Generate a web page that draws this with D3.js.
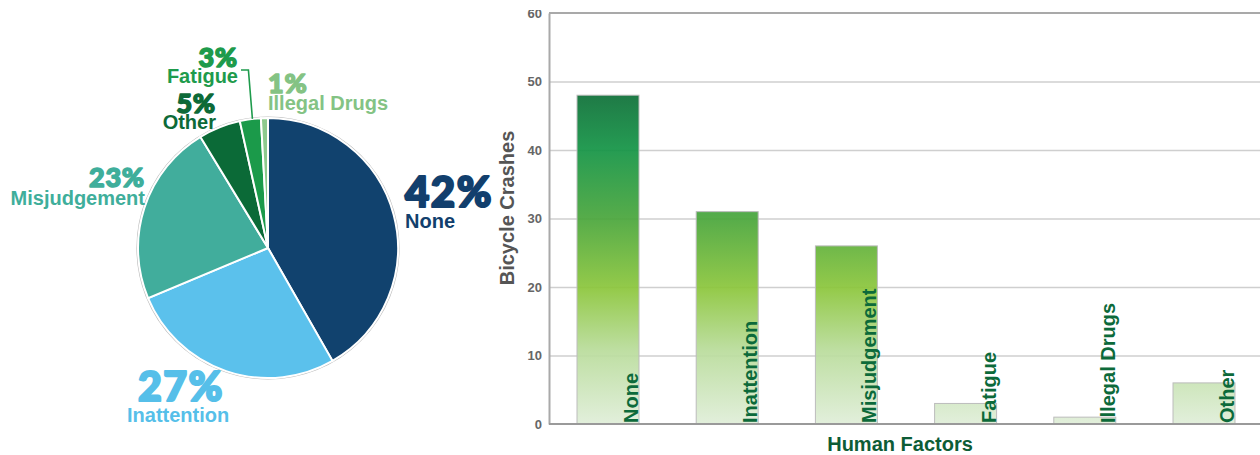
<!DOCTYPE html>
<html>
<head>
<meta charset="utf-8">
<script src="https://cdn.jsdelivr.net/npm/d3@7"></script>
<style>
  html, body { margin: 0; padding: 0; background: #fff; }
  svg { display: block; }
</style>
</head>
<body>
<svg id="chart" width="1260" height="455"></svg>
<script>
// ---- data ----
const categories = ["None", "Inattention", "Misjudgement", "Fatigue", "Illegal Drugs", "Other"];
const crashes = [48, 31, 26, 3, 1, 6];
// pie order (clockwise from 12 o'clock)
const pieOrder = ["None", "Inattention", "Misjudgement", "Other", "Fatigue", "Illegal Drugs"];
const pieColors = ["#11426e", "#5bc1ec", "#41ad9c", "#0b6a37", "#1b9a4a", "#8dca8e"];
const labelColors = ["#123f6d", "#56bfe9", "#3fae9b", "#0d6a38", "#1e9b4c", "#84c384"];
const yTicks = [0, 10, 20, 30, 40, 50, 60];

const svg = d3.select("#chart");
const LABEL_FONT = "'Liberation Sans', Arial, sans-serif";
const PCT_FONT = "Lato, 'Noto Sans', sans-serif";

// ---------------- PIE ----------------
const total = d3.sum(crashes);
const pieData = pieOrder.map((c, i) => ({
  name: c, value: crashes[categories.indexOf(c)], color: pieColors[i], lc: labelColors[i]
}));
const cx = 268, cy = 248, R = 130;
const pie = d3.pie().sort(null).value(d => d.value);
const arcs = pie(pieData);
const arc = d3.arc().innerRadius(0).outerRadius(R);
const gp = svg.append("g").attr("transform", `translate(${cx},${cy})`);
gp.append("circle").attr("r", R + 1).attr("fill", "none").attr("stroke", "#bdbdbd").attr("stroke-width", 1.2);
gp.selectAll("path.slice").data(arcs).enter().append("path")
  .attr("class", "slice")
  .attr("d", arc)
  .attr("fill", d => d.data.color)
  .attr("stroke", "#fff").attr("stroke-width", 2);

// label layout (positions are layout, not data)
const pieLabels = {
  "None":          { x: 405, y: 207, anchor: "start", size: 42, dy: 21 },
  "Inattention":   { x: 138, y: 401, anchor: "start", size: 41, dy: 21, lx: 127 },
  "Misjudgement":  { x: 145, y: 187, anchor: "end",   size: 27, dy: 18 },
  "Other":         { x: 216, y: 113, anchor: "end",   size: 27, dy: 16 },
  "Fatigue":       { x: 238, y: 67,  anchor: "end",   size: 27, dy: 16 },
  "Illegal Drugs": { x: 268, y: 93,  anchor: "start", size: 27, dy: 17 }
};
arcs.forEach(a => {
  const L = pieLabels[a.data.name];
  const pct = Math.round(a.data.value / total * 100) + "%";
  svg.append("text")
    .attr("x", L.x).attr("y", L.y)
    .attr("text-anchor", L.anchor)
    .attr("font-family", PCT_FONT).attr("font-weight", 900)
    .attr("font-size", L.size)
    .attr("letter-spacing", L.size > 35 ? 1.5 : 0.8)
    .attr("fill", a.data.lc)
    .attr("stroke", a.data.lc)
    .attr("stroke-width", L.size > 35 ? 2.2 : 1.5)
    .attr("stroke-linejoin", "round")
    .text(pct);
  svg.append("text")
    .attr("x", L.lx !== undefined ? L.lx : L.x).attr("y", L.y + L.dy)
    .attr("text-anchor", L.anchor)
    .attr("font-family", LABEL_FONT).attr("font-weight", "bold")
    .attr("font-size", 20)
    .attr("fill", a.data.lc)
    .text(a.data.name);
});
// leader line for Fatigue
const fat = arcs.find(a => a.data.name === "Fatigue");
const fAng = fat.startAngle + (fat.endAngle - fat.startAngle) * 0.6;
const fx = cx + R * Math.sin(fAng), fy = cy - R * Math.cos(fAng);
svg.append("path")
  .attr("d", `M241,70 L${fx - 4},70 L${fx},${fy}`)
  .attr("fill", "none").attr("stroke", "#1e9b4c").attr("stroke-width", 1.6);

// ---------------- BAR CHART ----------------
const x0 = 549, x1 = 1263, yTop = 13, yBot = 424;
const x = d3.scaleBand().domain(categories).range([x0, x1]).paddingInner(0.48).paddingOuter(0.235);
const y = d3.scaleLinear().domain([0, 60]).range([yBot, yTop]);

const defs = svg.append("defs");
const grad = defs.append("linearGradient").attr("id", "barGrad")
  .attr("gradientUnits", "userSpaceOnUse")
  .attr("x1", 0).attr("x2", 0).attr("y1", yTop).attr("y2", yBot);
[[0, "#0a5e30"], [0.2, "#0e7038"], [0.33, "#149446"], [0.5, "#4aa63c"],
 [0.67, "#8cc63c"], [0.82, "#b9dc9b"], [1, "#e0eed9"]].forEach(s =>
  grad.append("stop").attr("offset", s[0]).attr("stop-color", s[1]));
defs.append("clipPath").attr("id", "topClip")
  .append("rect").attr("x", -600).attr("y", 10).attr("width", 2000).attr("height", 445);

const gb = svg.append("g");
// gridlines
gb.append("g")
  .attr("transform", `translate(${x0},0)`)
  .call(d3.axisLeft(y).tickValues(yTicks.filter(t => t > 0 && t < 60)).tickSize(-(1260 - x0)).tickFormat(""))
  .call(g => g.select(".domain").remove())
  .call(g => g.selectAll("line").attr("stroke", "#cfcfcf").attr("stroke-width", 1.5));
// top line
gb.append("line").attr("x1", x0).attr("x2", 1260).attr("y1", y(60)).attr("y2", y(60))
  .attr("stroke", "#a9a9a9").attr("stroke-width", 2);

// bars
gb.selectAll("rect.bar").data(categories).enter().append("rect")
  .attr("class", "bar")
  .attr("x", d => x(d))
  .attr("y", (d, i) => y(crashes[i]))
  .attr("width", x.bandwidth())
  .attr("height", (d, i) => y(0) - y(crashes[i]))
  .attr("fill", "url(#barGrad)")
  .attr("fill-opacity", 0.93)
  .attr("stroke", "#bcbcbc").attr("stroke-width", 1);

// bar labels (rotated)
gb.selectAll("text.blab").data(categories).enter().append("text")
  .attr("class", "blab")
  .attr("transform", d => `translate(${x(d) + x.bandwidth() - 1},${yBot - 1}) rotate(-90)`)
  .attr("font-family", LABEL_FONT).attr("font-weight", "bold").attr("font-size", 20)
  .attr("fill", "#0c6a3a")
  .text(d => d);

// axes
const ya = gb.append("g").attr("transform", `translate(${x0},0)`).attr("clip-path", "url(#topClip)")
  .call(d3.axisLeft(y).tickValues(yTicks).tickSize(0).tickPadding(7));
ya.select(".domain").attr("stroke", "#a9a9a9").attr("stroke-width", 2);
ya.selectAll("text").attr("font-family", LABEL_FONT).attr("font-weight", "bold")
  .attr("font-size", 13).attr("fill", "#666");

gb.append("line").attr("x1", x0).attr("x2", 1260).attr("y1", yBot).attr("y2", yBot)
  .attr("stroke", "#9a9a9a").attr("stroke-width", 2);

// axis titles
gb.append("text")
  .attr("transform", `translate(514,208) rotate(-90)`)
  .attr("text-anchor", "middle")
  .attr("font-family", LABEL_FONT).attr("font-weight", "bold").attr("font-size", 20)
  .attr("fill", "#555")
  .text("Bicycle Crashes");
gb.append("text")
  .attr("x", 900).attr("y", 451)
  .attr("text-anchor", "middle")
  .attr("font-family", LABEL_FONT).attr("font-weight", "bold").attr("font-size", 20)
  .attr("fill", "#0d5c36")
  .text("Human Factors");
</script>
</body>
</html>
